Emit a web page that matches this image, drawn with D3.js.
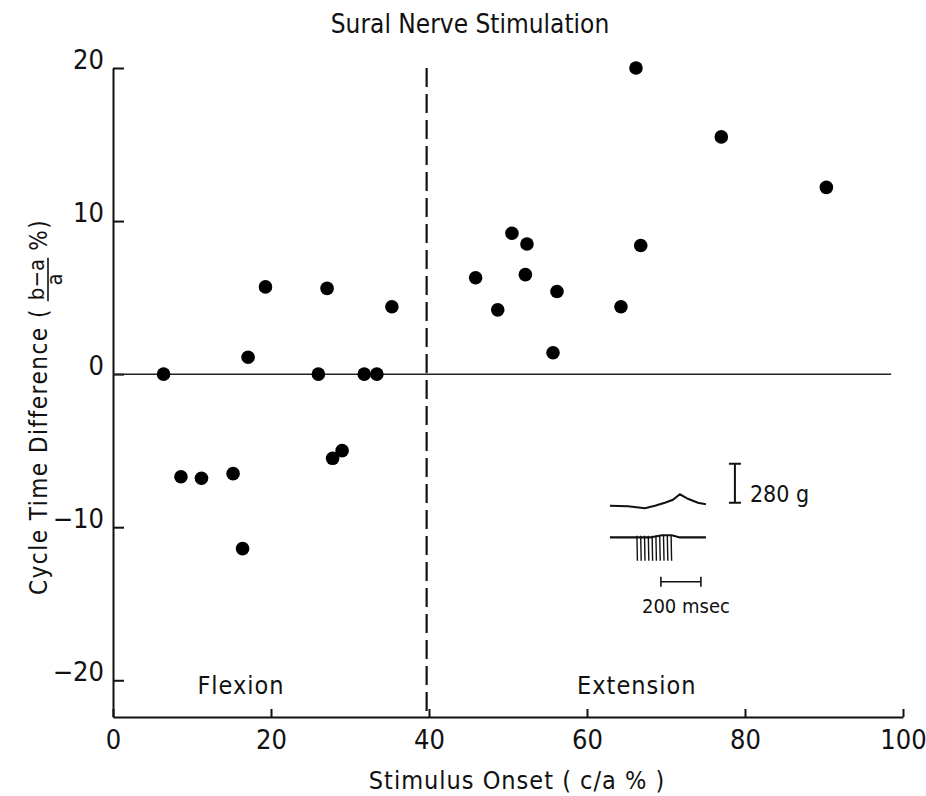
<!DOCTYPE html>
<html>
<head>
<meta charset="utf-8">
<script src="https://cdn.jsdelivr.net/npm/d3@7"></script>
<style>
  body { margin: 0; background: #fff; }
  svg { display: block; }
  text { font-family: "Liberation Sans Narrow", "DejaVu Sans Condensed", "Roboto", sans-serif; fill: #111; }
</style>
</head>
<body>
<svg id="main" width="926" height="796"></svg>
<script>
const width = 926;
const height = 796;

// stimulus onset (c/a %) and cycle time difference ((b-a)/a %)
const onset = [6.4, 8.6, 11.2, 15.2, 16.4, 17.1, 19.3, 26.0, 27.1, 27.8, 29.0, 31.8, 33.4, 35.3,
               45.9, 48.7, 50.5, 52.4, 52.2, 56.2, 55.7, 64.3, 66.2, 66.8, 77.0, 90.3];
const cycleDiff = [0, -6.7, -6.8, -6.5, -11.4, 1.1, 5.7, 0, 5.6, -5.5, -5.0, 0, 0, 4.4,
                   6.3, 4.2, 9.2, 8.5, 6.5, 5.4, 1.4, 4.4, 20, 8.4, 15.5, 12.2];

const xTicks = [0, 20, 40, 60, 80, 100];
const yTicks = [-20, -10, 0, 10, 20];
const divider = 39.7;
const phases = [{ label: "Flexion", x: 16.2 }, { label: "Extension", x: 66.3 }];

const svg = d3.select('#main');

const x = d3.scaleLinear().domain([0, 100]).range([113, 903]);
const y = d3.scaleLinear().domain([-22.4, 20]).range([717, 68]);

// title
svg.append('text')
    .attr('x', 470)
    .attr('y', 33)
    .attr('text-anchor', 'middle')
    .style('font-size', '26px')
    .text('Sural Nerve Stimulation');

// x axis
const xAxis = svg.append('g')
    .attr('transform', `translate(0, ${y.range()[0]})`)
    .call(d3.axisBottom(x).tickValues(xTicks).tickFormat(d3.format('d'))
        .tickSizeInner(-8).tickSizeOuter(0).tickPadding(13));
xAxis.select('.domain').attr('stroke', '#111').attr('stroke-width', 2);
xAxis.selectAll('.tick line').attr('stroke', '#111').attr('stroke-width', 2);
xAxis.selectAll('.tick text').style('font-size', '27px').style('font-family', null);

// y axis
const yAxis = svg.append('g')
    .attr('transform', `translate(${x.range()[0]}, 0)`)
    .call(d3.axisLeft(y).tickValues(yTicks).tickFormat(d => d < 0 ? '\u2212' + Math.abs(d) : d)
        .tickSizeInner(-11).tickSizeOuter(0).tickPadding(9));
yAxis.select('.domain').attr('stroke', '#111').attr('stroke-width', 2);
yAxis.selectAll('.tick line').attr('stroke', '#111').attr('stroke-width', 2);
yAxis.selectAll('.tick text').attr('dy', '0').style('font-size', '27px').style('font-family', null);
svg.selectAll('.tick text').attr('fill', '#111');

// zero line
svg.append('line')
    .attr('x1', x(0)).attr('x2', x(98.5))
    .attr('y1', y(0)).attr('y2', y(0))
    .attr('stroke', '#222').attr('stroke-width', 1.5);

// flexion / extension divider
svg.append('line')
    .attr('x1', x(divider)).attr('x2', x(divider))
    .attr('y1', y(20)).attr('y2', y.range()[0])
    .attr('stroke', '#111').attr('stroke-width', 2.2)
    .attr('stroke-dasharray', '19,7');

svg.append('g')
    .selectAll('text')
    .data(phases)
    .enter()
    .append('text')
    .attr('x', d => x(d.x))
    .attr('y', y(-20.9))
    .attr('text-anchor', 'middle')
    .style('font-size', '25px')
    .style('letter-spacing', '1px')
    .text(d => d.label);

// data points
svg.append('g')
    .selectAll('circle')
    .data(onset.map((d, i) => [d, cycleDiff[i]]))
    .enter()
    .append('circle')
    .attr('cx', d => x(d[0]))
    .attr('cy', d => y(d[1]))
    .attr('r', 6.8)
    .attr('fill', '#000');

// y axis title with fraction
const yt = svg.append('g').attr('transform', 'translate(47, 595) rotate(-90)');
const main = yt.append('text')
    .attr('x', 0).attr('y', 0)
    .style('font-size', '24px')
    .style('letter-spacing', '1.5px')
    .text('Cycle Time Difference (');
const mainLen = main.node().getComputedTextLength();
const fx = mainLen + 8;
const num = yt.append('text')
    .attr('x', fx).attr('y', -3)
    .style('font-size', '22px')
    .text('b\u2212a');
const numLen = num.node().getComputedTextLength();
yt.append('line')
    .attr('x1', fx - 1).attr('x2', fx + numLen + 1)
    .attr('y1', 1).attr('y2', 1)
    .attr('stroke', '#111').attr('stroke-width', 1.6);
yt.append('text')
    .attr('x', fx + numLen / 2).attr('y', 15)
    .attr('text-anchor', 'middle')
    .style('font-size', '22px')
    .text('a');
yt.append('text')
    .attr('x', fx + numLen + 8).attr('y', 0)
    .style('font-size', '24px')
    .style('letter-spacing', '1.5px')
    .text('%)');

// x axis title
svg.append('text')
    .attr('x', 517)
    .attr('y', 789)
    .attr('text-anchor', 'middle')
    .style('font-size', '25px')
    .style('letter-spacing', '1px')
    .text('Stimulus Onset  ( c/a % )');

// inset: force trace, EMG burst and scale bars
const inset = svg.append('g')
    .attr('transform', `translate(${x(62.9)}, ${y(-8.6)})`)
    .attr('fill', 'none')
    .attr('stroke', '#111');

inset.append('path')
    .attr('d', d3.line()([[0, 0], [18, 0.5], [35, 2.5], [45, 0], [55, -3], [63, -6], [70, -11.5], [78, -7], [88, -3], [96, -1.5]]))
    .attr('stroke-width', 2);

inset.append('path')
    .attr('d', d3.line()([[0, 31.7], [40, 31.7], [52, 29.5], [62, 29.5], [70, 31.7], [96, 31.7]]))
    .attr('stroke-width', 2.2);

inset.append('g')
    .selectAll('line')
    .data(d3.range(10))
    .enter()
    .append('line')
    .attr('x1', i => 27 + i * 3.8).attr('x2', i => 27.5 + i * 3.8)
    .attr('y1', 30).attr('y2', 55)
    .attr('stroke-width', 1.4);

// force scale bar
inset.append('path')
    .attr('d', 'M119,-42H131M125,-42V-3M119,-3H131')
    .attr('stroke-width', 2);
inset.append('text')
    .attr('x', 140).attr('y', -4)
    .attr('stroke', 'none')
    .style('font-size', '23px')
    .text('280 g');

// time scale bar
inset.append('path')
    .attr('d', 'M51,71V81M51,76H91M91,71V81')
    .attr('stroke-width', 1.6);
inset.append('text')
    .attr('x', 76).attr('y', 107)
    .attr('text-anchor', 'middle')
    .attr('stroke', 'none')
    .style('font-size', '20px')
    .text('200 msec');
</script>
</body>
</html>
